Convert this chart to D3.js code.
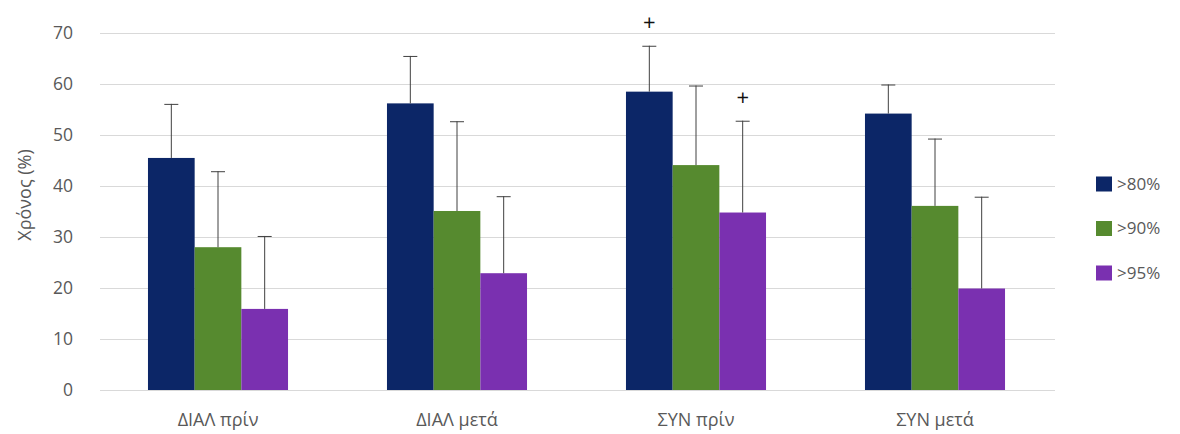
<!DOCTYPE html>
<html><head><meta charset="utf-8">
<script src="https://cdn.jsdelivr.net/npm/d3@7"></script>
<style>body{margin:0;background:#fff;} svg{display:block;}</style>
</head><body>
<svg id="chart" width="1180" height="434"></svg>
<script>
const categories = ["ΔΙΑΛ πρίν", "ΔΙΑΛ μετά", "ΣΥΝ πρίν", "ΣΥΝ μετά"];
const seriesNames = [">80%", ">90%", ">95%"];
const seriesColors = ["#0c2667", "#568a2f", "#7a30b0"];
const values80 = [45.5, 56.2, 58.5, 54.2];
const values90 = [28.0, 35.1, 44.1, 36.1];
const values95 = [15.9, 22.9, 34.8, 19.9];
const errTop80 = [56.1, 65.5, 67.5, 59.9];
const errTop90 = [42.9, 52.7, 59.7, 49.3];
const errTop95 = [30.2, 38.0, 52.8, 37.9];
const yTicks = [0, 10, 20, 30, 40, 50, 60, 70];
const yTitle = "Χρόνος (%)";
// significance markers: [categoryIndex, seriesIndex, label]
const markers = [[2, 0, "+"], [2, 2, "+"]];

const values = [values80, values90, values95];
const errTops = [errTop80, errTop90, errTop95];
const font = "'Open Sans', 'DejaVu Sans', sans-serif";
const svg = d3.select("#chart");

const x0 = d3.scaleBand().domain(categories).range([98.5, 1054.5]).paddingInner(0.414).paddingOuter(0.207);
const x1 = d3.scaleBand().domain(seriesNames).range([0, x0.bandwidth()]);
const y = d3.scaleLinear().domain([0, 70]).range([390, 33]);

// gridlines
svg.append("g").selectAll("line").data(yTicks).join("line")
  .attr("x1", 100).attr("x2", 1055)
  .attr("y1", d => y(d) + 0.5).attr("y2", d => y(d) + 0.5)
  .attr("stroke", "#d9d9d9").attr("stroke-width", 1);

// y tick labels
svg.append("g").selectAll("text").data(yTicks).join("text")
  .attr("x", 73).attr("y", d => y(d)).attr("dy", "0.35em")
  .attr("text-anchor", "end").attr("font-family", font).attr("font-size", 17.5)
  .attr("fill", "#595959").text(d => d);

// y title
svg.append("text").attr("transform", "translate(25,195) rotate(-90)")
  .attr("text-anchor", "middle").attr("dy", "0.35em")
  .attr("font-family", font).attr("font-size", 18).attr("fill", "#595959").text(yTitle);

// bars
const groups = svg.append("g").selectAll("g").data(categories).join("g")
  .attr("transform", c => `translate(${x0(c)},0)`);
groups.each(function(c, ci) {
  const g = d3.select(this);
  seriesNames.forEach((s, si) => {
    const v = values[si][ci];
    g.append("rect").attr("x", x1(s)).attr("width", x1.bandwidth())
      .attr("y", y(v)).attr("height", y(0) - y(v)).attr("fill", seriesColors[si]);
  });
  seriesNames.forEach((s, si) => {
    const cx = x1(s) + x1.bandwidth() / 2;
    const v = values[si][ci], e = errTops[si][ci];
    g.append("line").attr("x1", cx).attr("x2", cx).attr("y1", y(v)).attr("y2", y(e))
      .attr("stroke", "#404040").attr("stroke-width", 1);
    g.append("line").attr("x1", cx - 7).attr("x2", cx + 7).attr("y1", y(e) + 0.5).attr("y2", y(e) + 0.5)
      .attr("stroke", "#404040").attr("stroke-width", 1);
  });
});

// markers
markers.forEach(([ci, si, label]) => {
  const cx = x0(categories[ci]) + x1(seriesNames[si]) + x1.bandwidth() / 2;
  svg.append("text").attr("x", cx).attr("y", y(errTops[si][ci]) - 23)
    .attr("text-anchor", "middle").attr("dy", "0.35em")
    .attr("font-family", font).attr("font-size", 22).attr("fill", "#111").text(label);
});

// x labels
svg.append("g").selectAll("text").data(categories).join("text")
  .attr("x", c => x0(c) + x0.bandwidth() / 2).attr("y", 426)
  .attr("text-anchor", "middle").attr("font-family", font).attr("font-size", 18)
  .attr("fill", "#595959").text(d => d);

// legend
const leg = svg.append("g").selectAll("g").data(seriesNames).join("g")
  .attr("transform", (d, i) => `translate(1096,${184 + i * 44.5})`);
leg.append("rect").attr("x", 0).attr("y", -7.5).attr("width", 16).attr("height", 15)
  .attr("fill", (d, i) => seriesColors[i]);
leg.append("text").attr("x", 21).attr("dy", "0.35em").attr("font-family", font)
  .attr("font-size", 17).attr("fill", "#595959").text(d => d);
</script>
</body></html>
